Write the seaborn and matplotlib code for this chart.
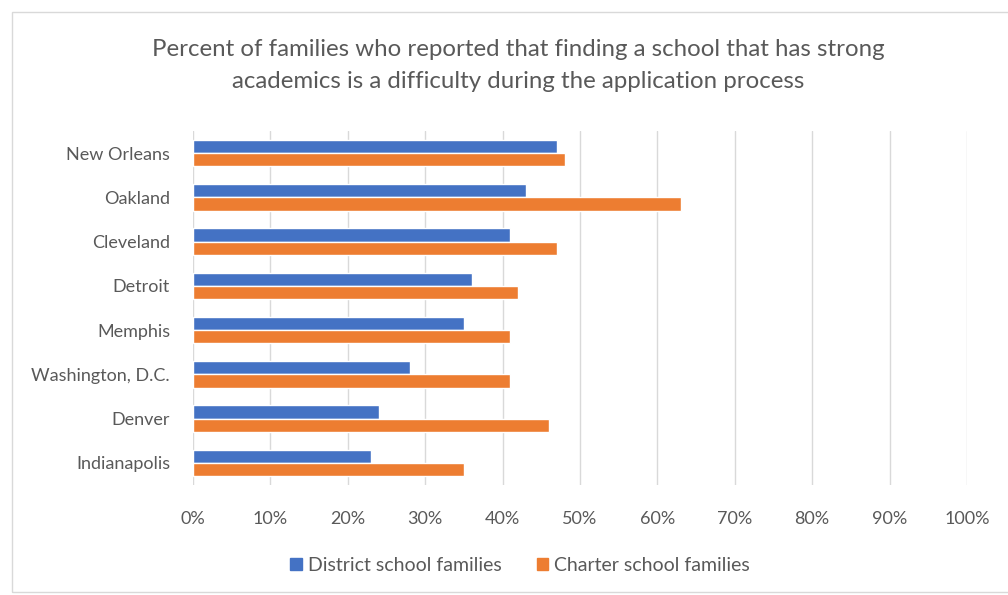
import matplotlib
matplotlib.use("Agg")
import matplotlib.pyplot as plt
import matplotlib.patches as mpatches
import seaborn as sns
import pandas as pd

cities = ["New Orleans", "Oakland", "Cleveland", "Detroit", "Memphis",
          "Washington, D.C.", "Denver", "Indianapolis"]
district = [47, 43, 41, 36, 35, 28, 24, 23]
charter = [48, 63, 47, 42, 41, 41, 46, 35]
series = ["District school families", "Charter school families"]
colors = ["#4472C4", "#ED7D31"]
xticks = [0, 10, 20, 30, 40, 50, 60, 70, 80, 90, 100]
title = ("Percent of families who reported that finding a school that has strong\n"
         "academics is a difficulty during the application process")

df = pd.DataFrame({
    "city": cities * 2,
    "value": district + charter,
    "series": [series[0]] * len(cities) + [series[1]] * len(cities),
})

sns.set_theme(style="white")
plt.rcParams["font.family"] = ["Lato", "DejaVu Sans"]

text_gray = "#595959"
fig = plt.figure(figsize=(10.08, 5.95), dpi=100)
ax = fig.add_axes([0.1915, 0.185, 0.7678, 0.595])

sns.barplot(data=df, y="city", x="value", hue="series", order=cities,
            hue_order=series, palette=colors, orient="h", width=0.6,
            saturation=1, ax=ax, legend=False)

ax.set_xlim(0, 100)
ax.set_xticks(xticks)
ax.set_xticklabels([f"{t}%" for t in xticks])
ax.set_xlabel("")
ax.set_ylabel("")
ax.grid(axis="x", color="#D9D9D9", linewidth=1)
ax.set_axisbelow(True)
for s in ax.spines.values():
    s.set_visible(False)
ax.tick_params(axis="both", length=0, colors=text_gray, labelsize=13)
ax.tick_params(axis="y", pad=16.5)
ax.tick_params(axis="x", pad=19)

fig.text(0.514, 0.89, title, ha="center", va="center", fontsize=17.3,
         color=text_gray, linespacing=1.65)

handles = [mpatches.Patch(color=c, label=l) for c, l in zip(colors, series)]
fig.legend(handles=handles, loc="center", bbox_to_anchor=(0.516, 0.05), ncol=2,
           frameon=False, fontsize=14, handlelength=0.6, handleheight=0.6,
           handletextpad=0.3, columnspacing=1.8, labelcolor=text_gray)

fig.patches.append(mpatches.Rectangle((12 / 1008, 3 / 595), 1010 / 1008, 580 / 595,
                                      transform=fig.transFigure, fill=False,
                                      edgecolor="#D9D9D9", linewidth=1))

fig.savefig("out.png", dpi=100)
